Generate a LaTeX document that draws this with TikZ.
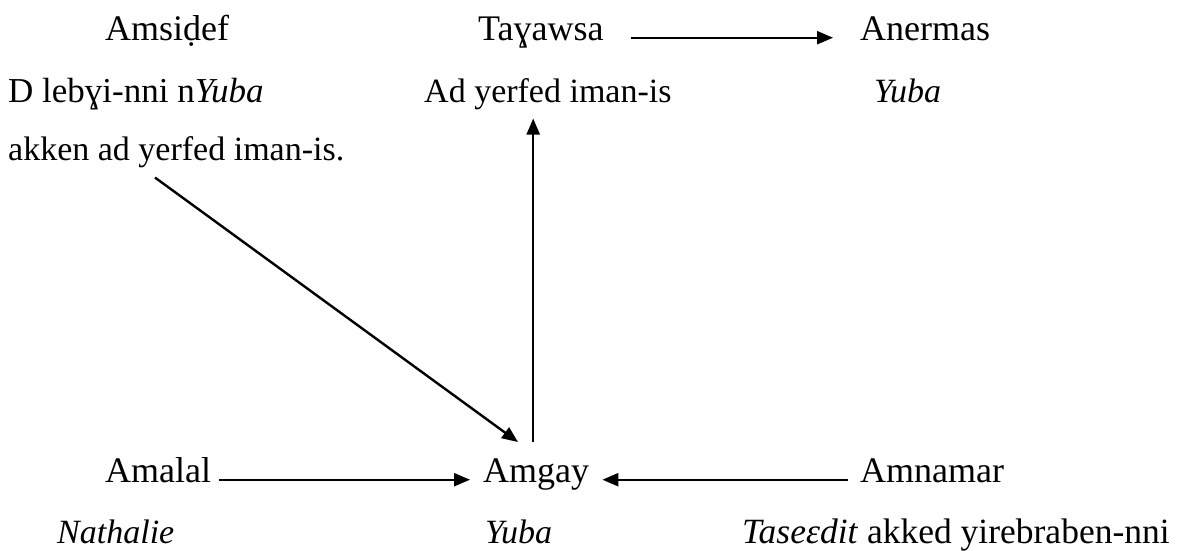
\documentclass[tikz,border=0pt]{standalone}
\usepackage{fontspec}
\setmainfont{Liberation Serif}
\usetikzlibrary{arrows.meta}
\begin{document}
\begin{tikzpicture}[x=1pt,y=-1pt,
  lbl/.style={anchor=base west,inner sep=0pt,font=\fontsize{36}{43}\selectfont},
  desc/.style={anchor=base west,inner sep=0pt,font=\fontsize{34}{41}\selectfont},
  conn/.style={line width=2.4pt,-{Triangle[length=16pt,width=13pt]}}]
\useasboundingbox[fill=white] (0,0) rectangle (1191,550);
% top row
\node[lbl] (amsidef) at (105,40) {Amsiḍef};
\node[lbl] (tagawsa) at (478,40) {Taɣawsa};
\node[lbl] (anermas) at (860,40) {Anermas};
\node[desc,font=\fontsize{35}{42}\selectfont] (lebgi) at (8,102) {D lebɣi-nni n\textit{Yuba}};
\node[desc] (adyerfed) at (424,102) {Ad yerfed iman-is};
\node[desc] (yubaA) at (874,102) {\textit{Yuba}};
\node[desc] (akken) at (8,160) {akken ad yerfed iman-is.};
% bottom row
\node[lbl] (amalal) at (105,482) {Amalal};
\node[lbl] (amgay) at (483,482) {Amgay};
\node[lbl] (amnamar) at (860,482) {Amnamar};
\node[desc] (nathalie) at (57,543) {\textit{Nathalie}};
\node[desc] (yubaB) at (485,543) {\textit{Yuba}};
\node[desc,font=\fontsize{35.5}{42}\selectfont] (tasedit) at (742,543) {\textit{Taseɛdit} akked yirebraben-nni};
% connectors
\draw[conn,shorten <=27pt,shorten >=27pt] (tagawsa.mid east) -- (anermas.mid west);
\draw[conn,shorten <=8pt,shorten >=13pt] (amalal.mid east) -- (amgay.mid west);
\draw[conn,shorten <=12pt,shorten >=13pt] (amnamar.mid west) -- (amgay.mid east);
\draw[conn] ([xshift=-3pt,yshift=16pt]amgay.north) -- ([xshift=-3pt,yshift=-9pt]amgay.north |- adyerfed.south);
\draw[conn] ([shift={(147pt,-10pt)}]akken.south west) -- ([shift={(35pt,16pt)}]amgay.north west);
\end{tikzpicture}
\end{document}
